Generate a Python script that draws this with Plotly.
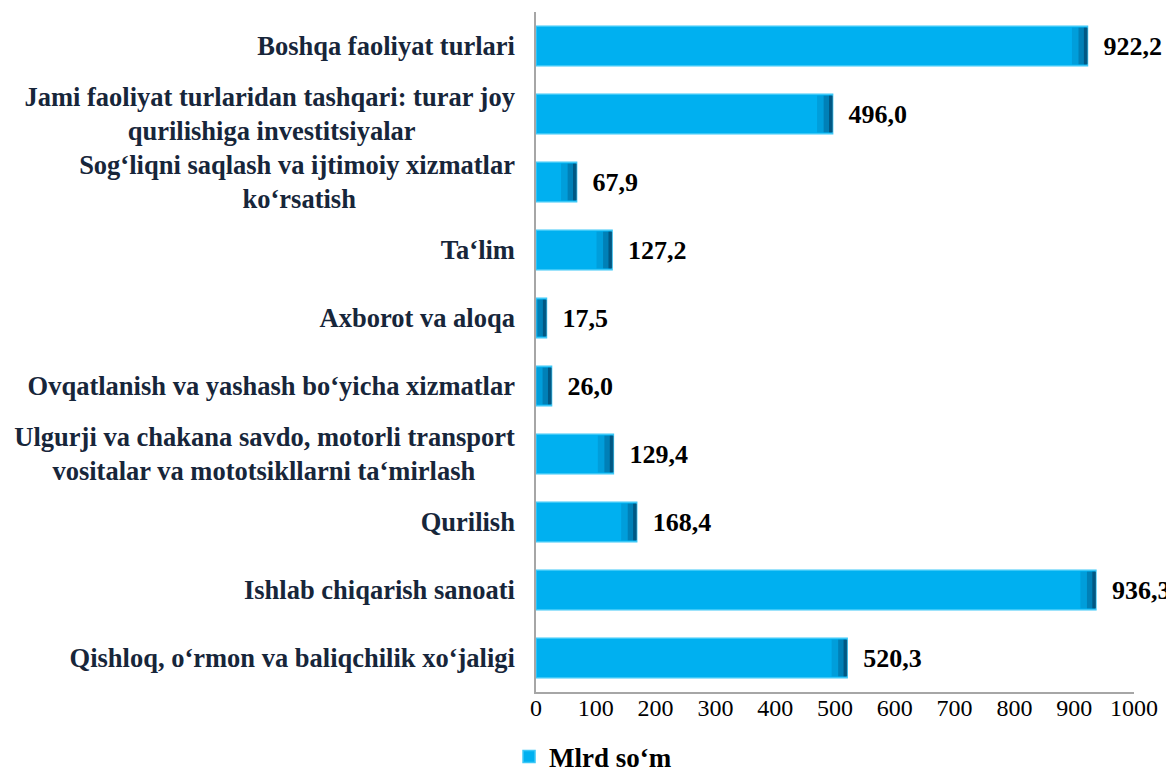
import plotly.graph_objects as go

categories = [
    "Qishloq, o‘rmon va baliqchilik xo‘jaligi",
    "Ishlab chiqarish sanoati",
    "Qurilish",
    "Ulgurji va chakana savdo, motorli transport<br>vositalar va mototsikllarni ta‘mirlash",
    "Ovqatlanish va yashash bo‘yicha xizmatlar",
    "Axborot va aloqa",
    "Ta‘lim",
    "Sog‘liqni saqlash va ijtimoiy xizmatlar<br>ko‘rsatish",
    "Jami faoliyat turlaridan tashqari: turar joy<br>qurilishiga investitsiyalar",
    "Boshqa faoliyat turlari",
]
values = [520.3, 936.3, 168.4, 129.4, 26.0, 17.5, 127.2, 67.9, 496.0, 922.2]
series_name = "Mlrd so‘m"
x_ticks = [0, 100, 200, 300, 400, 500, 600, 700, 800, 900, 1000]

# centre the second line of wrapped labels (plotly right-aligns each line)
pad_second_line = {3: 6, 7: 24, 8: 15}
tick_text = []
for i, c in enumerate(categories):
    if i in pad_second_line:
        tick_text.append(c + "\u00a0" * pad_second_line[i])
    else:
        tick_text.append(c)

labels = ["\u00a0\u00a0" + f"{v:.1f}".replace(".", ",") for v in values]

SERIF = "Liberation Serif"

fig = go.Figure()
fig.add_trace(go.Bar(
    y=categories, x=values, orientation="h", name=series_name,
    marker=dict(color="#00B0F0", line=dict(color="#3CC8F7", width=1.5)),
    text=labels, textposition="outside", cliponaxis=False, constraintext="none",
    textfont=dict(family=SERIF, size=26, color="#000000", weight="bold"),
    width=0.58,
))
# shading at bar ends (cylinder-like darkening)
steps = [(26, "rgba(0,70,110,0.16)"), (15, "rgba(0,60,100,0.30)"), (6, "rgba(0,40,70,0.45)")]
for d, col in steps:
    fig.add_trace(go.Bar(
        y=categories, x=[min(d, v) for v in values],
        base=[max(0, v - d) for v in values],
        orientation="h", showlegend=False, hoverinfo="skip",
        marker=dict(color=col, line=dict(width=0)), width=0.54,
    ))

fig.update_layout(
    barmode="overlay",
    width=1166, height=765,
    margin=dict(l=528, r=40, t=4, b=81, autoexpand=False),
    paper_bgcolor="white", plot_bgcolor="white",
    font=dict(family=SERIF, color="#000000"),
    showlegend=True,
    legend=dict(orientation="h", xref="container", yref="container",
                x=0.4297, xanchor="left", y=0.0209, yanchor="middle",
                font=dict(family=SERIF, size=27, color="#000000", weight="bold"),
                itemwidth=30, tracegroupgap=0),
    xaxis=dict(range=[0, 1000], tickvals=x_ticks, showgrid=False, zeroline=False,
               showline=True, linecolor="#A6A6A6", linewidth=1.5, automargin=False,
               tickfont=dict(family=SERIF, size=24, color="#000000"),
               ticks="", ticklabelstandoff=-7),
    yaxis=dict(showgrid=False, zeroline=False, showline=True, linecolor="#A6A6A6",
               linewidth=1.5, ticks="", ticklabelstandoff=14, automargin=False,
               tickvals=categories, ticktext=tick_text,
               tickfont=dict(family=SERIF, size=26.5, color="#17263A", weight="bold")),
)

fig.write_html("out.html")
